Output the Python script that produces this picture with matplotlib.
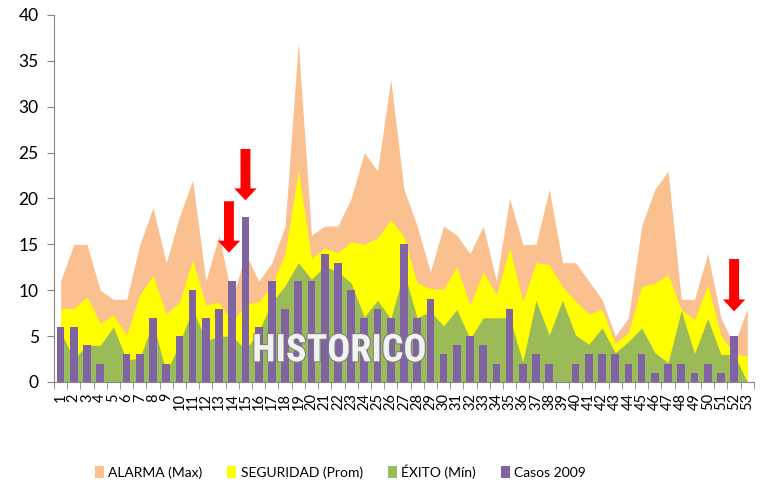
import numpy as np
import matplotlib
matplotlib.use('Agg')
import matplotlib.pyplot as plt
from matplotlib import rcParams
import matplotlib.patheffects as pe

# Weekly channel values
weeks = np.arange(1, 54)
alarma = [11, 15, 15, 10, 9, 9, 15, 19, 13, 18, 22, 11, 16, 9, 14, 11, 13, 17,
          37, 16, 17, 17, 20, 25, 23, 33, 21, 17, 12, 17, 16, 14, 17, 11, 20,
          15, 15, 21, 13, 13, 11, 9, 5, 7, 17, 21, 23, 9, 9, 14, 7, 4, 8]
seguridad = [8, 8, 9.3, 6.4, 7.3, 5.1, 9.5, 11.6, 7.4, 8.7, 13.3, 8.4, 8.7,
             6.5, 8.5, 8.75, 10.5, 14, 23, 13.5, 14.6, 14.1, 15.3, 15, 15.7,
             17.7, 15.8, 10.8, 10.2, 10.1, 12.6, 8.4, 12, 9.5, 14.6, 8.8, 13,
             12.8, 10.4, 8.8, 7.4, 7.9, 4.2, 5.4, 10.4, 10.8, 11.7, 7.9, 6.8,
             10.6, 5.1, 3.1, 2.8]
exito = [5.5, 2.5, 4, 4, 6, 2.4, 2.6, 6.5, 1, 4.2, 8, 4.5, 5, 5, 3.5, 5.5,
         8.7, 10.5, 13, 11.2, 12.6, 12, 10.8, 7.1, 8.9, 6.9, 12, 7, 7.7, 6.1,
         7.9, 4.7, 7, 7, 7, 2.2, 8.9, 5.1, 8.9, 5.1, 4.1, 5.9, 3.2, 4.4, 5.9,
         3.2, 2.1, 7.8, 3.1, 6.9, 3, 3, 0]
casos_2009 = [6, 6, 4, 2, 0, 3, 3, 7, 2, 5, 10, 7, 8, 11, 18, 6, 11, 8, 11,
              11, 14, 13, 10, 7, 8, 7, 15, 7, 9, 3, 4, 5, 4, 2, 8, 2, 3, 2, 0,
              2, 3, 3, 3, 2, 3, 1, 2, 2, 1, 2, 1, 5, 0]

labels = ['ALARMA (Max)', 'SEGURIDAD (Prom)', 'ÉXITO (Mín)', 'Casos 2009']
colors = ['#FAC090', '#FFFF00', '#9BBB59', '#8064A2']

# red arrows marking weeks of interest: (week, tail, tip)
arrows = [(13.75, 19.7, 14.1), (15, 25.4, 19.8), (52, 13.4, 7.7)]

rcParams.update({'font.family': ['Lato', 'DejaVu Sans']})
rcParams.update({'font.size': 12})

fig = plt.figure(figsize=(7.7, 4.91), dpi=100)
ax = fig.add_axes([0.0701, 0.222, 0.909, 0.7475])

ax.fill_between(weeks, 0, alarma, color=colors[0], lw=0, label=labels[0])
ax.fill_between(weeks, 0, seguridad, color=colors[1], lw=0, label=labels[1])
ax.fill_between(weeks, 0, exito, color=colors[2], lw=0, label=labels[2])
ax.bar(weeks, casos_2009, width=0.58, color=colors[3], label=labels[3])

for wk, tail, tip in arrows:
    ax.arrow(wk, tail, 0, tip - tail, width=0.75, head_width=1.7,
             head_length=1.3, length_includes_head=True, color='red', lw=0,
             zorder=5)

# watermark, narrow font if one is around; size fitted to ~174 px width
hist = ax.text(22.1, 3.4, 'HISTORICO', ha='center', va='center',
               fontsize=30, fontweight='bold', color='#F2F2F2',
               fontstretch='condensed',
               family=['Liberation Sans Narrow', 'DejaVu Sans Condensed',
                       'Roboto Condensed', 'DejaVu Sans'],
               path_effects=[pe.withStroke(linewidth=1.5,
                                           foreground='#7F7F7F')],
               zorder=6)
rend = fig.canvas.get_renderer()
w = hist.get_window_extent(rend).width
hist.set_fontsize(30 * 174.0 / w)

ax.set_xlim(0.5, 53.5)
ax.set_ylim(0, 40)
ax.set_yticks(np.arange(0, 41, 5))
ax.set_xticks(weeks)
ax.set_xticklabels([str(w) for w in weeks], rotation=90, fontsize=10.5)
ax.set_xticks(np.arange(0.5, 54, 1), minor=True)
ax.tick_params(axis='x', which='major', length=0, pad=8)
ax.tick_params(axis='x', which='minor', length=5, color='#868686')
ax.tick_params(axis='y', length=5, color='#868686', labelsize=12.5, pad=6)

for side in ['top', 'right']:
    ax.spines[side].set_visible(False)
for side in ['left', 'bottom']:
    ax.spines[side].set_color('#868686')

fig.legend(loc='center', bbox_to_anchor=(0.442, 0.039), ncol=4,
           frameon=False, fontsize=10, handlelength=0.65,
           handleheight=0.95, handletextpad=0.3, columnspacing=1.8)

plt.savefig('out.png', dpi=100, facecolor='w')
